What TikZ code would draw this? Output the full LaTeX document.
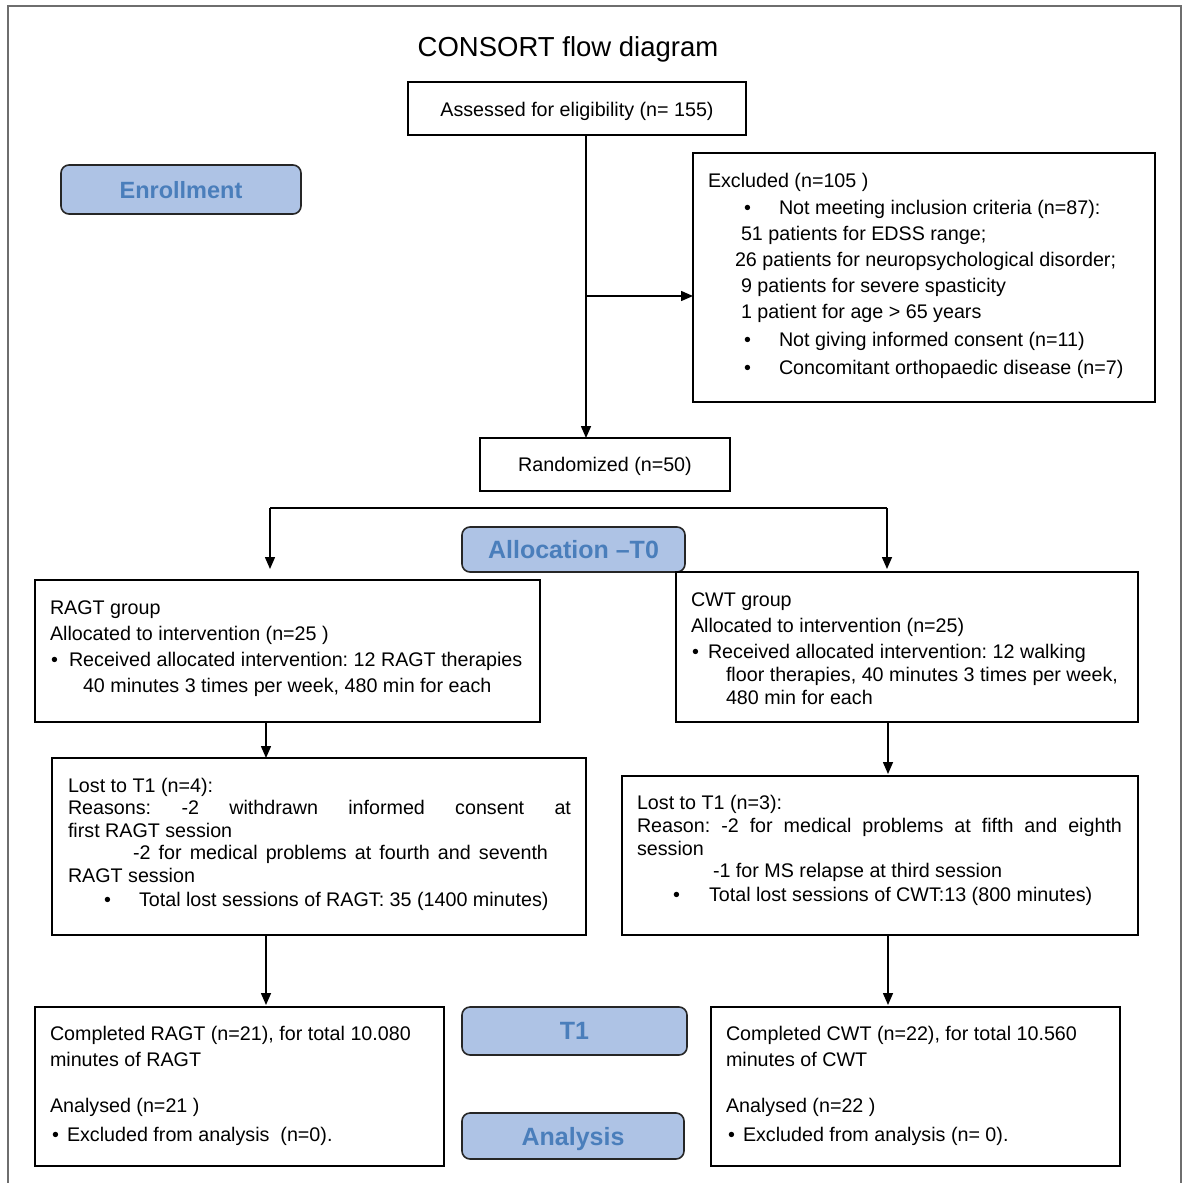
\documentclass[tikz,border=0pt]{standalone}
\usepackage{fontspec}
\setmainfont{Liberation Sans}
\usetikzlibrary{arrows.meta}
\definecolor{lblfill}{HTML}{AEC3E5}
\definecolor{lbltext}{HTML}{4A7EBB}
\definecolor{framec}{HTML}{6E6E6E}
\newcommand\bodyfont{\fontsize{19.7}{23.6}\selectfont\frenchspacing}
\tikzset{
 box/.style={draw=black, line width=1.8pt, inner sep=0pt, outer sep=0pt, anchor=north west},
 lbl/.style={draw=black!85, line width=1.6pt, fill=lblfill, rounded corners=8pt, inner sep=0pt, outer sep=0pt, anchor=north west, text=lbltext, text depth=0pt, font=\bfseries\fontsize{25}{30}\selectfont},
 txt/.style={anchor=base west, inner sep=0pt, outer sep=0pt, font=\bodyfont, text=black},
 conn/.style={line width=1.5pt, draw=black},
 arr/.style={conn, -{Triangle[length=12pt,width=10pt]}},
}
\begin{document}
\begin{tikzpicture}[x=1pt,y=-1pt]
\useasboundingbox (0,0) rectangle (1186,1183);
\draw[framec, line width=1.3pt] (8,1183) -- (8,6) -- (1181,6) -- (1181,1183);

\node[anchor=base, inner sep=0pt, font=\fontsize{27.5}{33}\selectfont] (title) at (568,56) {CONSORT flow diagram};

% label boxes
\node[lbl, minimum width=240pt, minimum height=49pt, font=\bfseries\fontsize{23.5}{28}\selectfont] (enroll) at (61,165) {Enrollment};
\node[lbl, minimum width=223pt, minimum height=45pt] (alloc) at (462,527) {Allocation --T0};
\node[lbl, minimum width=225pt, minimum height=48pt] (tone) at (462,1007) {T1};
\node[lbl, minimum width=222pt, minimum height=46pt] (analysis) at (462,1113) {Analysis};

% boxes
\node[box, minimum width=338pt, minimum height=53pt] (assess) at (408,82) {};
\node[box, minimum width=462pt, minimum height=249pt] (excl) at (693,153) {};
\node[box, minimum width=250pt, minimum height=53pt] (rand) at (480,438) {};
\node[box, minimum width=505pt, minimum height=142pt] (ragt) at (35,580) {};
\node[box, minimum width=462pt, minimum height=150pt] (cwt) at (676,572) {};
\node[box, minimum width=534pt, minimum height=177pt] (lostr) at (52,758) {};
\node[box, minimum width=516pt, minimum height=159pt] (lostc) at (622,776) {};
\node[box, minimum width=409pt, minimum height=159pt] (compr) at (35,1007) {};
\node[box, minimum width=409pt, minimum height=159pt] (compc) at (711,1007) {};

% texts
\node[txt, anchor=base] (tassess) at (577,116) {Assessed for eligibility (n= 155)};
\node[txt, anchor=base] (trand) at (605,471) {Randomized (n=50)};

\node[txt] (e1) at (708,187) {Excluded (n=105 )};
\node[txt] (eb1) at (744,214) {•};
\node[txt] (e2) at (779,214) {Not meeting inclusion criteria (n=87):};
\node[txt] (e3) at (741,240) {51 patients for EDSS range;};
\node[txt] (e4) at (735,266) {26 patients for neuropsychological disorder;};
\node[txt] (e5) at (741,292) {9 patients for severe spasticity};
\node[txt] (e6) at (741,318) {1 patient for age > 65 years};
\node[txt] (eb2) at (744,346) {•};
\node[txt] (e7) at (779,346) {Not giving informed consent (n=11)};
\node[txt] (eb3) at (744,374) {•};
\node[txt] (e8) at (779,374) {Concomitant orthopaedic disease (n=7)};

\node[txt] (r1) at (50,614) {RAGT group};
\node[txt] (r2) at (50,640) {Allocated to intervention (n=25 )};
\node[txt] (rb1) at (51,666) {•};
\node[txt] (r3) at (69,666) {Received allocated intervention: 12 RAGT therapies};
\node[txt] (r4) at (83,692) {40 minutes 3 times per week, 480 min for each};

\node[txt] (c1) at (691,606) {CWT group};
\node[txt] (c2) at (691,632) {Allocated to intervention (n=25)};
\node[txt] (cb1) at (692,658) {•};
\node[txt] (c3) at (708,658) {Received allocated intervention: 12 walking};
\node[txt] (c4) at (726,681) {floor therapies, 40 minutes 3 times per week,};
\node[txt] (c5) at (726,704) {480 min for each};

\node[txt] (lr1) at (68,792) {Lost to T1 (n=4):};
\node[txt] (lr2) at (68,814) {\makebox[503pt][s]{Reasons: -2 withdrawn informed consent at}};
\node[txt] (lr3) at (68,837) {first RAGT session};
\node[txt] (lr4) at (133,859) {\makebox[415pt][s]{-2 for medical problems at fourth and seventh}};
\node[txt] (lr5) at (68,882) {RAGT session};
\node[txt] (lrb) at (104,906) {•};
\node[txt] (lr6) at (139,906) {Total lost sessions of RAGT: 35 (1400 minutes)};

\node[txt] (lc1) at (637,809) {Lost to T1 (n=3):};
\node[txt] (lc2) at (637,832) {\makebox[485pt][s]{Reason: -2 for medical problems at fifth and eighth}};
\node[txt] (lc3) at (637,855) {session};
\node[txt] (lc4) at (713,877) {-1 for MS relapse at third session};
\node[txt] (lcb) at (673,901) {•};
\node[txt] (lc5) at (709,901) {Total lost sessions of CWT:13 (800 minutes)};

\node[txt] (cr1) at (50,1040) {Completed RAGT (n=21), for total 10.080};
\node[txt] (cr2) at (50,1066) {minutes of RAGT};
\node[txt] (cr3) at (50,1112) {Analysed (n=21 )};
\node[txt] (crb) at (52,1141) {•};
\node[txt] (cr4) at (67,1141) {Excluded from analysis~~(n=0).};

\node[txt] (cc1) at (726,1040) {Completed CWT (n=22), for total 10.560};
\node[txt] (cc2) at (726,1066) {minutes of CWT};
\node[txt] (cc3) at (726,1112) {Analysed (n=22 )};
\node[txt] (ccb) at (728,1141) {•};
\node[txt] (cc4) at (743,1141) {Excluded from analysis (n= 0).};

% connectors
\coordinate (vx) at (586,296);
\draw[arr] (assess.south -| vx) -- (rand.north -| vx);
\draw[arr] (vx) -- (vx -| excl.west);

\coordinate (bl) at (270,508);
\coordinate (br) at (887,508);
\draw[conn] (bl) -- (br);
\draw[arr, shorten >=11pt] (bl) -- (bl |- ragt.north);
\draw[arr, shorten >=3pt] (br) -- (br |- cwt.north);

\coordinate (lx) at (266,0);
\coordinate (rx) at (888,0);
\draw[arr] (ragt.south -| lx) -- (lostr.north -| lx);
\draw[arr, shorten >=2pt] (cwt.south -| rx) -- (lostc.north -| rx);
\draw[arr, shorten >=2pt] (lostr.south -| lx) -- (compr.north -| lx);
\draw[arr, shorten >=2pt] (lostc.south -| rx) -- (compc.north -| rx);
\end{tikzpicture}
\end{document}
